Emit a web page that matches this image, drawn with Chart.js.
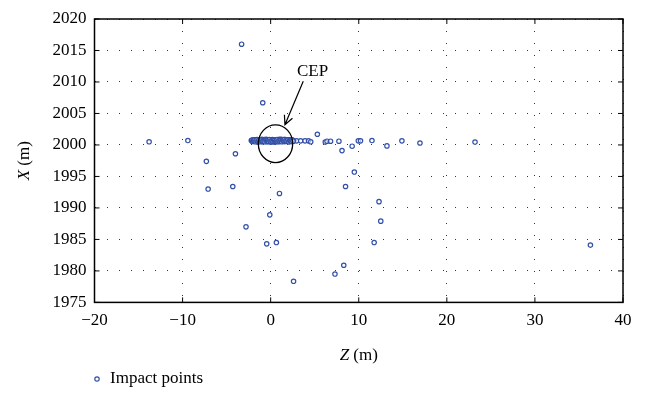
<!DOCTYPE html>
<html>
<head>
<meta charset="utf-8">
<script src="https://cdn.jsdelivr.net/npm/chart.js@4/dist/chart.umd.min.js"></script>
<style>
    html, body { margin: 0; padding: 0; background: #fff; }
    #wrap { width: 648px; height: 408px; }
</style>
</head>
<body>
<div id="wrap"><canvas id="impactChart" width="648" height="408"></canvas></div>
<script>
// Puntos de impacto dispersos (Z, X)
const outlierZ = [-13.8, -9.4, -7.3, -4.0, -3.3, -0.9, 5.3, 6.2, 6.4, 6.8, 7.75, 8.1, 9.25, 9.5, 9.95, 10.2,
    11.5, 13.2, 14.9, 16.95, 23.2, -7.1, -4.3, 1.0, 8.5, -0.1, -2.8, -0.45, 0.65, 8.3, 7.3, 2.6,
    12.3, 12.5, 11.75, 36.3, 2.95, 3.4, 3.9, 4.3, 4.55];
const outlierX = [2000.5, 2000.7, 1997.4, 1998.6, 2016.0, 2006.7, 2001.7, 2000.45, 2000.6, 2000.6, 2000.6, 1999.1, 1999.8, 1995.7, 2000.65, 2000.65,
    2000.7, 1999.85, 2000.65, 2000.3, 2000.45, 1993.0, 1993.4, 1992.3, 1993.4, 1988.9, 1987.0, 1984.3, 1984.5, 1980.9, 1979.5, 1978.35,
    1991.0, 1987.9, 1984.5, 1984.1, 2000.65, 2000.65, 2000.65, 2000.65, 2000.5];

// Nube densa dentro del CEP (dos filas intercaladas)
const clusterZ = [-2.2, -2.1, -2.0, -1.9, -1.8, -1.7, -1.6, -1.5, -1.4, -1.3, -1.2, -1.1, -1.0, -0.9, -0.8, -0.7,
    -0.6, -0.5, -0.4, -0.3, -0.2, -0.1, 0.0, 0.1, 0.2, 0.3, 0.4, 0.5, 0.6, 0.7, 0.8, 0.9, 1.0, 1.1, 1.2, 1.3,
    1.4, 1.5, 1.6, 1.7, 1.8, 1.9, 2.0, 2.1, 2.2, 2.3, 2.4, 2.5, 2.6, -1.5, -0.5, 0.5, 1.0, 1.5, 2.0, 0.0, -1.0, 0.2, 1.2, 2.3,
    -2.15, -2.05, -1.95, -1.85, -1.75, -1.65, -1.55, -1.45, -1.35, -1.25, -1.15, -1.05, -0.95, -0.85, -0.75, -0.65,
    -0.55, -0.45, -0.35, -0.25, -0.15, -0.05, 0.05, 0.15, 0.25, 0.35, 0.45, 0.55, 0.65, 0.75, 0.85, 0.95,
    1.05, 1.15, 1.25, 1.35, 1.45, 1.55, 1.65, 1.75, 1.85, 1.95, 2.05, 2.15, 2.25, 2.35, 2.45, 2.55];
const clusterX = [2000.7, 2000.6, 2000.8, 2000.6, 2000.7, 2000.8, 2000.6, 2000.7, 2000.55, 2000.8, 2000.7, 2000.6, 2000.75, 2000.5, 2000.7, 2000.85,
    2000.6, 2000.7, 2000.5, 2000.8, 2000.65, 2000.55, 2000.75, 2000.6, 2000.85, 2000.7, 2000.5, 2000.65, 2000.8, 2000.6, 2000.7, 2000.55, 2000.8, 2000.65, 2000.7, 2000.6,
    2000.75, 2000.55, 2000.7, 2000.85, 2000.6, 2000.7, 2000.65, 2000.8, 2000.6, 2000.7, 2000.55, 2000.7, 2000.65, 2000.45, 2000.9, 2000.45, 2000.9, 2000.85, 2000.5, 2000.45, 2000.9, 2000.5, 2000.9, 2000.8,
    2000.75, 2000.55, 2000.65, 2000.8, 2000.5, 2000.7, 2000.85, 2000.6, 2000.75, 2000.5, 2000.65, 2000.8, 2000.55, 2000.7, 2000.6, 2000.5,
    2000.8, 2000.65, 2000.75, 2000.55, 2000.85, 2000.6, 2000.5, 2000.7, 2000.6, 2000.8, 2000.75, 2000.55, 2000.65, 2000.85, 2000.5, 2000.7,
    2000.6, 2000.75, 2000.5, 2000.8, 2000.65, 2000.85, 2000.55, 2000.7, 2000.6, 2000.8, 2000.5, 2000.75, 2000.65, 2000.55, 2000.8, 2000.6];

const zTicks = [-20, -10, 0, 10, 20, 30, 40];
const xTicks = [1975, 1980, 1985, 1990, 1995, 2000, 2005, 2010, 2015, 2020];

// CEP: centro y radios en unidades de datos, etiqueta y flecha
const cepCenter = [0.55, 2000.2];
const cepRadius = [1.95, 3.0];
const cepLabel = [4.75, 2011.6];
const cepArrowFrom = [3.7, 2010.1];
const cepArrowTo = [1.62, 2003.2];

const serif = 'Liberation Serif, Times New Roman, serif';
const markerColor = '#3350a8';

const points = [];
outlierZ.forEach((z, i) => points.push({ x: z, y: outlierX[i] }));
clusterZ.forEach((z, i) => points.push({ x: z, y: clusterX[i] }));

const decorations = {
    id: 'decorations',
    afterDraw(chart) {
        const { ctx, chartArea: a, scales: { x, y } } = chart;
        ctx.save();
        ctx.strokeStyle = '#000';
        ctx.lineWidth = 1;
        ctx.beginPath();
        zTicks.forEach(t => {
            const px = x.getPixelForValue(t);
            ctx.moveTo(px, a.bottom); ctx.lineTo(px, a.bottom - 5);
            ctx.moveTo(px, a.top); ctx.lineTo(px, a.top + 5);
        });
        xTicks.forEach(t => {
            const py = y.getPixelForValue(t);
            ctx.moveTo(a.left, py); ctx.lineTo(a.left + 5, py);
            ctx.moveTo(a.right, py); ctx.lineTo(a.right - 5, py);
        });
        ctx.stroke();
        ctx.lineWidth = 1.5;
        ctx.strokeRect(a.left, a.top, a.right - a.left, a.bottom - a.top);

        // elipse del CEP
        const cx = x.getPixelForValue(cepCenter[0]);
        const cy = y.getPixelForValue(cepCenter[1]);
        const rx = x.getPixelForValue(cepCenter[0] + cepRadius[0]) - cx;
        const ry = cy - y.getPixelForValue(cepCenter[1] + cepRadius[1]);
        ctx.lineWidth = 1.3;
        ctx.beginPath();
        ctx.ellipse(cx, cy, rx, ry, 0, 0, Math.PI * 2);
        ctx.stroke();

        // flecha
        const x0 = x.getPixelForValue(cepArrowFrom[0]), y0 = y.getPixelForValue(cepArrowFrom[1]);
        const x1 = x.getPixelForValue(cepArrowTo[0]), y1 = y.getPixelForValue(cepArrowTo[1]);
        const ang = Math.atan2(y1 - y0, x1 - x0);
        ctx.lineWidth = 1.2;
        ctx.beginPath();
        ctx.moveTo(x0, y0); ctx.lineTo(x1, y1);
        ctx.moveTo(x1 - 10 * Math.cos(ang - 0.45), y1 - 10 * Math.sin(ang - 0.45));
        ctx.lineTo(x1, y1);
        ctx.lineTo(x1 - 10 * Math.cos(ang + 0.45), y1 - 10 * Math.sin(ang + 0.45));
        ctx.stroke();

        ctx.fillStyle = '#000';
        ctx.font = '17px ' + serif;
        ctx.textAlign = 'center';
        ctx.textBaseline = 'middle';
        ctx.fillText('CEP', x.getPixelForValue(cepLabel[0]), y.getPixelForValue(cepLabel[1]));

        // titulos de ejes con la letra en cursiva
        const drawTitle = (letter, cxT, cyT, rot) => {
            ctx.save();
            ctx.translate(cxT, cyT);
            ctx.rotate(rot);
            ctx.font = 'italic 17px ' + serif;
            const w1 = ctx.measureText(letter).width;
            ctx.font = '17px ' + serif;
            const w2 = ctx.measureText(' (m)').width;
            ctx.textAlign = 'left';
            ctx.font = 'italic 17px ' + serif;
            ctx.fillText(letter, -(w1 + w2) / 2, 0);
            ctx.font = '17px ' + serif;
            ctx.fillText(' (m)', -(w1 + w2) / 2 + w1, 0);
            ctx.restore();
        };
        drawTitle('X', 25, (a.top + a.bottom) / 2, -Math.PI / 2);
        drawTitle('Z', (a.left + a.right) / 2, 356, 0);

        // leyenda
        ctx.strokeStyle = markerColor;
        ctx.lineWidth = 1.2;
        ctx.beginPath();
        ctx.arc(97, 379, 2.2, 0, Math.PI * 2);
        ctx.stroke();
        ctx.fillStyle = '#000';
        ctx.textAlign = 'left';
        ctx.font = '17px ' + serif;
        ctx.fillText('Impact points', 110, 379);
        ctx.restore();
    }
};

new Chart(document.getElementById('impactChart'), {
    type: 'scatter',
    data: {
        datasets: [{
            label: 'Impact points',
            data: points,
            pointStyle: 'circle',
            pointRadius: 2.2,
            pointBorderWidth: 1.2,
            borderColor: markerColor,
            backgroundColor: 'rgba(255,255,255,0.6)'
        }]
    },
    options: {
        responsive: false,
        animation: false,
        layout: { padding: { top: 19, right: 25, left: 0, bottom: 0 } },
        plugins: { legend: { display: false }, tooltip: { enabled: false } },
        scales: {
            x: {
                type: 'linear',
                min: -20, max: 40,
                afterBuildTicks: scale => { scale.ticks = zTicks.map(v => ({ value: v })); },
                afterFit: scale => { scale.height = 105.6; },
                grid: { color: '#333', lineWidth: 1, drawTicks: false },
                border: { display: false, dash: [1, 11] },
                ticks: {
                    padding: 8,
                    color: '#000',
                    font: { family: serif, size: 17 },
                    callback: v => String(v).replace('-', '\u2212')
                }
            },
            y: {
                type: 'linear',
                min: 1975, max: 2020,
                afterBuildTicks: scale => { scale.ticks = xTicks.map(v => ({ value: v })); },
                afterFit: scale => { scale.width = 94.5; },
                grid: { color: '#333', lineWidth: 1, drawTicks: false },
                border: { display: false, dash: [1, 11] },
                ticks: {
                    padding: 8,
                    color: '#000',
                    font: { family: serif, size: 17 },
                    callback: v => String(v)
                }
            }
        }
    },
    plugins: [decorations]
});
</script>
</body>
</html>
